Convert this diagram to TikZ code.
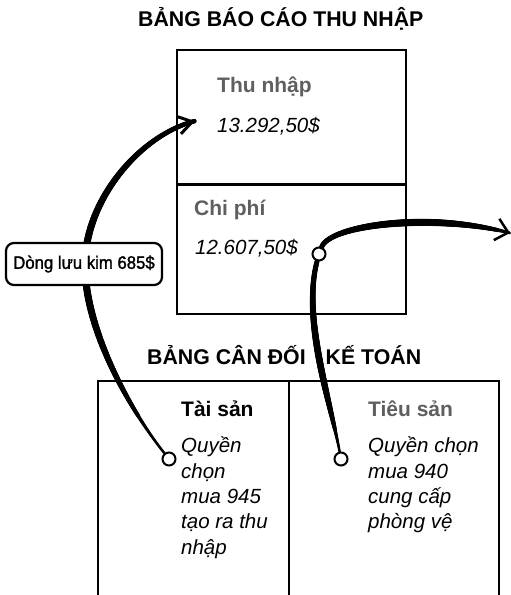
\documentclass[tikz,border=0pt]{standalone}
\usepackage{fontspec}
\setmainfont{Liberation Sans}
\usetikzlibrary{arrows.meta,decorations.markings}
\definecolor{headgray}{RGB}{95,95,95}
\font\lblfont="Liberation Sans:embolden=1.4;extend=0.93" at 18pt
\tikzset{
  boxline/.style={line width=2.3pt, line cap=rect},
  titletext/.style={anchor=base west, inner sep=0pt, font=\fontsize{21.3}{24}\selectfont\bfseries},
  headtext/.style={anchor=base west, inner sep=0pt, font=\fontsize{21}{24}\selectfont\bfseries},
  valtext/.style={anchor=base west, inner sep=0pt, font=\fontsize{20.5}{25.3}\selectfont\itshape},
  notetext/.style={anchor=north west, inner sep=0pt, align=left, font=\fontsize{20.5}{25.3}\selectfont\itshape},
  pin/.style={circle, draw, line width=2pt, fill=white, minimum size=13pt, inner sep=0pt},
  flow/.style={line width=2.4pt, line cap=round},
  taper/.style n args={3}{postaction={decorate, decoration={markings,
    mark=between positions 0 and 1 step 0.8pt with {%
      \pgfmathsetmacro\tpS{\pgfkeysvalueof{/pgf/decoration/mark info/distance from start}/\pgfdecoratedpathlength}%
      \pgfmathsetmacro\tpB{#1+(#3-#1)*\tpS}%
      \pgfmathsetmacro\tpR{0.5*(\tpB+(#2-\tpB)*sin(180*\tpS))}%
      \fill (0,0) circle[radius=\tpR pt];}}}},
  labelbox/.style={draw, line width=2.2pt, rounded corners=8pt, fill=white, minimum width=156pt, minimum height=42pt, inner sep=0pt}
}
\begin{document}
\begin{tikzpicture}[x=1pt,y=-1pt]
\useasboundingbox (0,0) rectangle (511,595);
\fill[white] (0,0) rectangle (511,595);

% titles
\node[titletext] (t1) at (138,26) {BẢNG BÁO CÁO THU NHẬP};
\node[titletext] (t2) at (147,364) {BẢNG CÂN ĐỐI\hspace{20pt}KẾ TOÁN};

% income statement box
\draw[boxline] (177,50) rectangle (406,314);
\draw[boxline] (177,184.5) -- (406,184.5);

% balance sheet box (open at bottom)
\draw[boxline] (98,600) -- (98,381) -- (499,381) -- (499,600);
\draw[boxline] (289,381) -- (289,600);

% texts
\node[headtext, text=headgray] (thu) at (217,92) {Thu nhập};
\node[valtext] (thuv) at (217,132) {13.292,50\$};
\node[headtext, text=headgray] (chi) at (194,215) {Chi phí};
\node[valtext] (chiv) at (195,254) {12.607,50\$};
\node[headtext] (tai) at (181,416.7) {Tài sản};
\node[headtext, text=headgray] (tieu) at (368,416.7) {Tiêu sản};
\node[notetext] (taiv) at (181,437) {Quyền\\chọn\\mua 945\\tạo ra thu\\nhập};
\node[notetext] (tieuv) at (368,437) {Quyền chọn\\mua 940\\cung cấp\\phòng vệ};

% pins
\node[pin] (p1) at (169,459) {};
\node[pin] (p2) at (341,459) {};
\node[pin] (p3) at (319,254) {};
\coordinate (e1) at (195,121);
\coordinate (e2) at (510,233);

% flow 1: option 945 -> income
\draw[flow, taper={2}{7.2}{4.5}, -{Straight Barb[length=14pt,width=18pt,line width=3pt]}]
  (p1) .. controls (130,410) and (85,330) .. (85,265)
       .. controls (85,200) and (140,135) .. (e1);

% flow 2: option 940 -> expense -> out
\draw[flow, taper={2}{6.8}{5}] (p2) .. controls (330,400) and (302,318) .. (p3);
\draw[flow, taper={5}{7.2}{3}, -{Straight Barb[length=12pt,width=22pt,line width=2.5pt]}]
  (p3) .. controls (330,225) and (430,212) .. (e2);

% cash flow label
\node[labelbox] (lbl) at (84,264) {\lblfont Dòng lưu kim 685\$};
\end{tikzpicture}
\end{document}
